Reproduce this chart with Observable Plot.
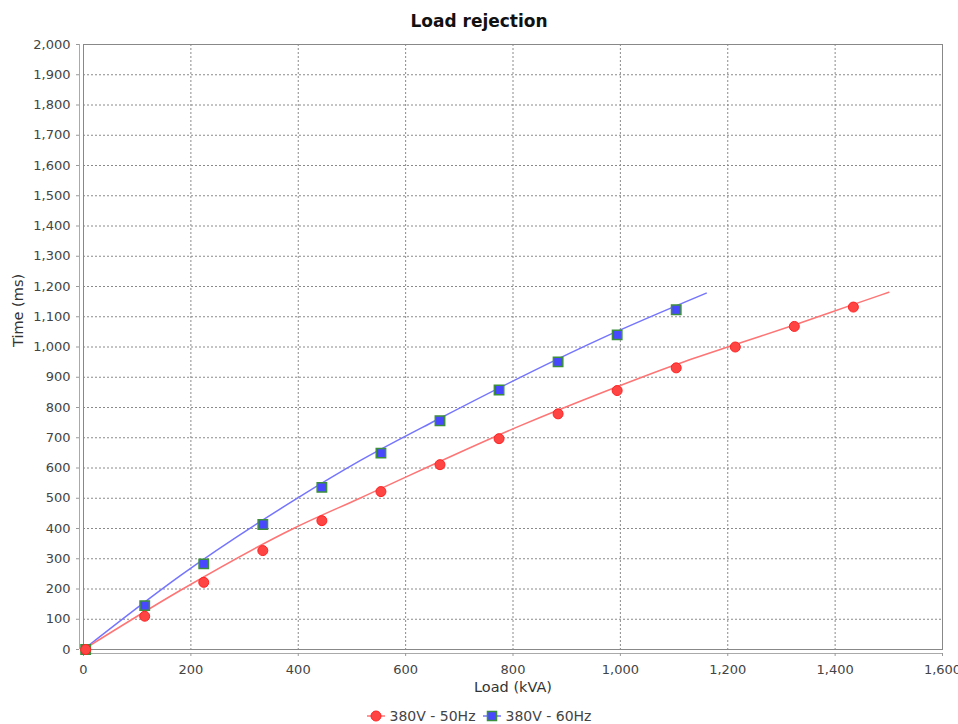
<!DOCTYPE html>
<html>
<head>
<meta charset="utf-8">
<script src="https://cdn.jsdelivr.net/npm/d3@7"></script>
<script src="https://cdn.jsdelivr.net/npm/@observablehq/plot@0.6"></script>
<style>
  body { margin: 0; background: #fff; font-family: "DejaVu Sans", sans-serif; }
  #wrap { width: 958px; height: 724px; overflow: hidden; }
  #title { height: 23px; padding-top: 11px; line-height: 20px; text-align: center; font-weight: bold; font-size: 17px; color: #111; }
  #chart svg { display: block; }
  #legend { height: 16px; padding-top: 8px; display: flex; justify-content: center; align-items: center; font-size: 14px; color: #444; }
  .item { display: flex; align-items: center; }
  .item svg { margin-right: 5px; }
  .item + .item { margin-left: 7px; }
</style>
</head>
<body>
<div id="wrap">
  <div id="title">Load rejection</div>
  <div id="chart"></div>
  <div id="legend"></div>
</div>
<script>
// ---- data ----
const seriesNames = ["380V - 50Hz", "380V - 60Hz"];

const load50 = [4, 114, 224, 334, 444, 554, 664, 774, 884, 994, 1104, 1214, 1324, 1434];
const time50 = [0, 110, 222, 327, 426, 522, 611, 697, 779, 856, 931, 1000, 1068, 1132];

const load60 = [4, 114, 224, 334, 444, 554, 664, 774, 884, 994, 1104];
const time60 = [0, 145, 283, 413, 536, 649, 756, 858, 951, 1040, 1123];

// trend lines
const trend50X = [0, 180, 391, 516, 814, 963, 1104, 1214, 1324, 1433, 1500];
const trend50Y = [0, 195, 400, 501, 740, 847, 942, 1008, 1073, 1140, 1181];
const trend60X = [0, 181, 391, 516, 656, 963, 1160];
const trend60Y = [0, 245, 492, 625, 757, 1027, 1178];

const xTicks = [0, 200, 400, 600, 800, 1000, 1200, 1400, 1600];
const yTicks = [0, 100, 200, 300, 400, 500, 600, 700, 800, 900, 1000, 1100, 1200, 1300, 1400, 1500, 1600, 1700, 1800, 1900, 2000];

const xLabel = "Load (kVA)";
const yLabel = "Time (ms)";

// ---- build tables ----
const pts50 = load50.map((x, i) => ({x, y: time50[i]}));
const pts60 = load60.map((x, i) => ({x, y: time60[i]}));
const fit50 = trend50X.map((x, i) => ({x, y: trend50Y[i]}));
const fit60 = trend60X.map((x, i) => ({x, y: trend60Y[i]}));

const red = "#ff4444", redLine = "#ff7474";
const blue = "#4848ff", blueLine = "#7474ff", green = "#3d8f3d";
const fmt = d3.format(",");

const chart = Plot.plot({
  width: 958,
  height: 666,
  marginLeft: 83,
  marginRight: 16,
  marginTop: 10,
  marginBottom: 51,
  style: {fontFamily: "DejaVu Sans", fontSize: "13px", color: "#444", background: "white"},
  x: {domain: [0, 1600]},
  y: {domain: [0, 2000]},
  marks: [
    Plot.gridX(xTicks, {stroke: "#8a8a8a", strokeOpacity: 1, strokeDasharray: "2,2"}),
    Plot.gridY(yTicks, {stroke: "#8a8a8a", strokeOpacity: 1, strokeDasharray: "2,2"}),
    Plot.frame({stroke: "#888"}),
    Plot.ruleX([0], {dx: -4, stroke: "#aaa"}),
    Plot.ruleY([0], {dy: 4, stroke: "#aaa"}),
    Plot.axisX(xTicks, {tickSize: 3, dy: 4, tickPadding: 8, tickFormat: fmt, stroke: "#999", fill: "#444", label: null}),
    Plot.axisY(yTicks, {tickSize: 3, dx: -4, tickPadding: 6, tickFormat: fmt, stroke: "#999", fill: "#444", label: null}),
    Plot.text([xLabel], {frameAnchor: "bottom", dy: 42, fontSize: 14.5, fill: "#333"}),
    Plot.text([yLabel], {frameAnchor: "left", dx: -65, rotate: -90, fontSize: 14.5, fill: "#333"}),
    Plot.line(fit60, {x: "x", y: "y", stroke: blueLine, strokeWidth: 1.5, curve: "monotone-x"}),
    Plot.line(fit50, {x: "x", y: "y", stroke: redLine, strokeWidth: 1.5, curve: "monotone-x"}),
    Plot.dot(pts60, {x: "x", y: "y", symbol: "square", r: 5.3, fill: blue, stroke: green, strokeWidth: 1.5}),
    Plot.dot(pts50, {x: "x", y: "y", r: 5, fill: red, stroke: "#f22", strokeWidth: 1})
  ]
});
document.getElementById("chart").appendChild(chart);

// ---- legend ----
const legend = document.getElementById("legend");
const ns = "http://www.w3.org/2000/svg";
function item(name, kind) {
  const div = document.createElement("div");
  div.className = "item";
  const s = document.createElementNS(ns, "svg");
  s.setAttribute("width", 18); s.setAttribute("height", 12);
  const l = document.createElementNS(ns, "line");
  l.setAttribute("x1", 0); l.setAttribute("x2", 18); l.setAttribute("y1", 6); l.setAttribute("y2", 6);
  l.setAttribute("stroke", kind === "circle" ? redLine : blueLine); l.setAttribute("stroke-width", 1.5);
  s.appendChild(l);
  if (kind === "circle") {
    const c = document.createElementNS(ns, "circle");
    c.setAttribute("cx", 9); c.setAttribute("cy", 6); c.setAttribute("r", 5);
    c.setAttribute("fill", red); c.setAttribute("stroke", "#f22");
    s.appendChild(c);
  } else {
    const r = document.createElementNS(ns, "rect");
    r.setAttribute("x", 4.5); r.setAttribute("y", 1.5); r.setAttribute("width", 9); r.setAttribute("height", 9);
    r.setAttribute("fill", blue); r.setAttribute("stroke", green); r.setAttribute("stroke-width", 1.5);
    s.appendChild(r);
  }
  div.appendChild(s);
  const t = document.createElement("span");
  t.textContent = name;
  div.appendChild(t);
  legend.appendChild(div);
}
item(seriesNames[0], "circle");
item(seriesNames[1], "square");
</script>
</body>
</html>
